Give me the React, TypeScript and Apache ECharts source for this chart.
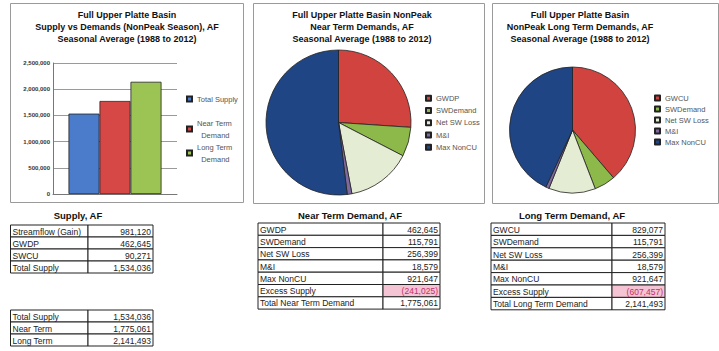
import React, { useEffect, useRef } from "react";
import * as echarts from "echarts";

// ---------- data ----------
const barNames = ["Total Supply", "Near Term Demand", "Long Term Demand"];
const barValues = [1534036, 1775061, 2141493];
const barColors = ["#4A7CCB", "#D64846", "#9CC455"];
const yMin = 0;
const yMax = 2500000;
const yInterval = 500000;

const nearNames = ["GWDP", "SWDemand", "Net SW Loss", "M&I", "Max NonCU"];
const nearValues = [462645, 115791, 256399, 18579, 921647];
const longNames = ["GWCU", "SWDemand", "Net SW Loss", "M&I", "Max NonCU"];
const longValues = [829077, 115791, 256399, 18579, 921647];
const pieColors = ["#D1433F", "#8DB94B", "#E4ECD3", "#7E6A9E", "#1F4584"];

const barTitle = "Full Upper Platte Basin\nSupply vs Demands (NonPeak Season), AF\nSeasonal Average (1988 to 2012)";
const nearTitle = "Full Upper Platte Basin NonPeak\nNear Term Demands, AF\nSeasonal Average (1988 to 2012)";
const longTitle = "Full Upper Platte Basin\nNonPeak Long Term Demands, AF\nSeasonal Average (1988 to 2012)";

const supplyTitle = "Supply, AF";
const supplyLabels = ["Streamflow (Gain)", "GWDP", "SWCU", "Total Supply"];
const supplyValues = [981120, 462645, 90271, 1534036];

const summaryLabels = ["Total Supply", "Near Term", "Long Term"];
const summaryValues = [1534036, 1775061, 2141493];

const nearTableTitle = "Near Term Demand, AF";
const nearTableLabels = ["GWDP", "SWDemand", "Net SW Loss", "M&I", "Max NonCU", "Excess Supply", "Total Near Term Demand"];
const nearTableValues = [462645, 115791, 256399, 18579, 921647, -241025, 1775061];

const longTableTitle = "Long Term Demand, AF";
const longTableLabels = ["GWCU", "SWDemand", "Net SW Loss", "M&I", "Max NonCU", "Excess Supply", "Total Long Term Demand"];
const longTableValues = [829077, 115791, 256399, 18579, 921647, -607457, 2141493];

// ---------- helpers ----------
const FONT = "'Liberation Sans Narrow', 'Liberation Sans', Arial, sans-serif";

const fmt = (v: number) =>
  v < 0 ? `(${Math.abs(v).toLocaleString("en-US")})` : v.toLocaleString("en-US");

function buildTable(
  left: number,
  top: number,
  divX: number,
  right: number,
  rowH: number,
  labels: string[],
  values: number[],
  highlight: number
) {
  const els: any[] = [];
  labels.forEach((lab, i) => {
    const y = top + i * rowH;
    const hl = i === highlight;
    els.push({
      type: "rect",
      silent: true,
      shape: { x: left, y, width: divX - left, height: rowH },
      style: { fill: "#fff", stroke: "#222", lineWidth: 1 },
    });
    els.push({
      type: "rect",
      silent: true,
      shape: { x: divX, y, width: right - divX, height: rowH },
      style: { fill: hl ? "#F4C3D4" : "#fff", stroke: "#222", lineWidth: 1 },
    });
    els.push({
      type: "text",
      silent: true,
      x: left + 2,
      y: y + rowH / 2 + 0.5,
      style: {
        text: lab,
        fill: "#222",
        fontSize: 8.5,
        fontFamily: FONT,
        align: "left",
        verticalAlign: "middle",
      },
    });
    els.push({
      type: "text",
      silent: true,
      x: right - 2,
      y: y + rowH / 2 + 0.5,
      style: {
        text: fmt(values[i]),
        fill: hl ? "#C2306A" : "#222",
        fontSize: 8.5,
        fontFamily: FONT,
        align: "right",
        verticalAlign: "middle",
      },
    });
  });
  return els;
}

function titleText(x: number, y: number, text: string, size = 9) {
  return {
    type: "text",
    silent: true,
    x,
    y,
    style: {
      text,
      fill: "#111",
      fontSize: size,
      fontWeight: "bold",
      fontFamily: FONT,
      align: "center",
      verticalAlign: "top",
      lineHeight: 12,
    },
  };
}

function panel(x: number, y: number, w: number, h: number) {
  return {
    type: "rect",
    silent: true,
    shape: { x, y, width: w, height: h },
    style: { fill: "none", stroke: "#9a9a9a", lineWidth: 1 },
  };
}

export default function App() {
  const ref = useRef<HTMLDivElement>(null);

  useEffect(() => {
    if (!ref.current) return;
    const chart = echarts.init(ref.current, undefined, { renderer: "svg" });

    const pieItem = (names: string[], values: number[]) =>
      names.map((n, i) => ({ name: n, value: values[i], itemStyle: { color: pieColors[i] } }));

    const legendText = { fontSize: 7.5, color: "#555", fontFamily: FONT };
    const legendBase = {
      orient: "vertical",
      padding: 0,
      icon: "rect",
      itemWidth: 5,
      itemHeight: 5,
      selectedMode: false,
    };

    const option: any = {
      animation: false,
      backgroundColor: "#fff",
      textStyle: { fontFamily: FONT },
      grid: { left: 53, top: 63, width: 124, height: 131, containLabel: false },
      xAxis: {
        type: "category",
        data: ["Supply"],
        axisLabel: { show: false },
        axisTick: { show: false },
        axisLine: { show: true, lineStyle: { color: "#777", width: 1 } },
      },
      yAxis: {
        type: "value",
        min: yMin,
        max: yMax,
        interval: yInterval,
        axisLine: { show: true, lineStyle: { color: "#777", width: 1 } },
        axisTick: { show: false },
        splitLine: { show: true, lineStyle: { color: "#9a9a9a", width: 1 } },
        axisLabel: {
          fontSize: 6,
          fontWeight: "bold",
          color: "#333",
          margin: 3,
          fontFamily: FONT,
          formatter: (v: number) => v.toLocaleString("en-US"),
        },
      },
      legend: [
        {
          ...legendBase,
          data: [barNames[0]],
          left: 186,
          top: 93,
          textStyle: { ...legendText, lineHeight: 12 },
        },
        {
          ...legendBase,
          data: [barNames[1]],
          left: 186,
          top: 117,
          textStyle: { ...legendText, lineHeight: 12 },
          formatter: (n: string) => n.replace(" Demand", "\n  Demand"),
        },
        {
          ...legendBase,
          data: [barNames[2]],
          left: 186,
          top: 141,
          textStyle: { ...legendText, lineHeight: 12 },
          formatter: (n: string) => n.replace(" Demand", "\n  Demand"),
        },
        {
          ...legendBase,
          data: nearNames,
          left: 425,
          top: 92,
          itemGap: 0,
          textStyle: { ...legendText, lineHeight: 12.3 },
        },
        {
          ...legendBase,
          data: longNames,
          left: 654,
          top: 92.5,
          itemGap: 0,
          textStyle: { ...legendText, lineHeight: 11 },
        },
      ],
      series: [
        ...barNames.map((n, i) => ({
          type: "bar",
          name: n,
          data: [barValues[i]],
          barGap: "0%",
          barCategoryGap: "25%",
          itemStyle: { color: barColors[i], borderColor: "#222", borderWidth: 0.8 },
        })),
        {
          type: "pie",
          name: "Near Term",
          center: [338.5, 122.5],
          radius: 72.5,
          startAngle: 90,
          clockwise: true,
          label: { show: false },
          labelLine: { show: false },
          itemStyle: { borderColor: "#222", borderWidth: 0.8 },
          data: pieItem(nearNames, nearValues),
        },
        {
          type: "pie",
          name: "Long Term",
          center: [572.5, 130],
          radius: 63,
          startAngle: 90,
          clockwise: true,
          label: { show: false },
          labelLine: { show: false },
          itemStyle: { borderColor: "#222", borderWidth: 0.8 },
          data: pieItem(longNames, longValues),
        },
      ],
      graphic: [
        panel(10.5, 3.5, 233, 199),
        panel(253.5, 3.5, 231, 200),
        panel(492.5, 3.5, 226, 200),
        titleText(127, 9, barTitle),
        titleText(362, 9, nearTitle),
        titleText(580, 9, longTitle),
        titleText(78, 209, supplyTitle, 9.5),
        titleText(350, 209, nearTableTitle, 9.5),
        titleText(572, 209, longTableTitle, 9.5),
        ...buildTable(10.5, 225, 88, 153, 12, supplyLabels, supplyValues, -1),
        ...buildTable(10.5, 310, 88, 153, 12, summaryLabels, summaryValues, -1),
        ...buildTable(258, 223, 383, 440, 12.3, nearTableLabels, nearTableValues, 5),
        ...buildTable(491, 223, 612, 665, 12.4, longTableLabels, longTableValues, 5),
      ],
    };

    chart.setOption(option);
    return () => chart.dispose();
  }, []);

  return (
    <div
      ref={ref}
      style={{ position: "fixed", left: 0, top: 0, width: 719, height: 351, background: "#fff" }}
    />
  );
}
